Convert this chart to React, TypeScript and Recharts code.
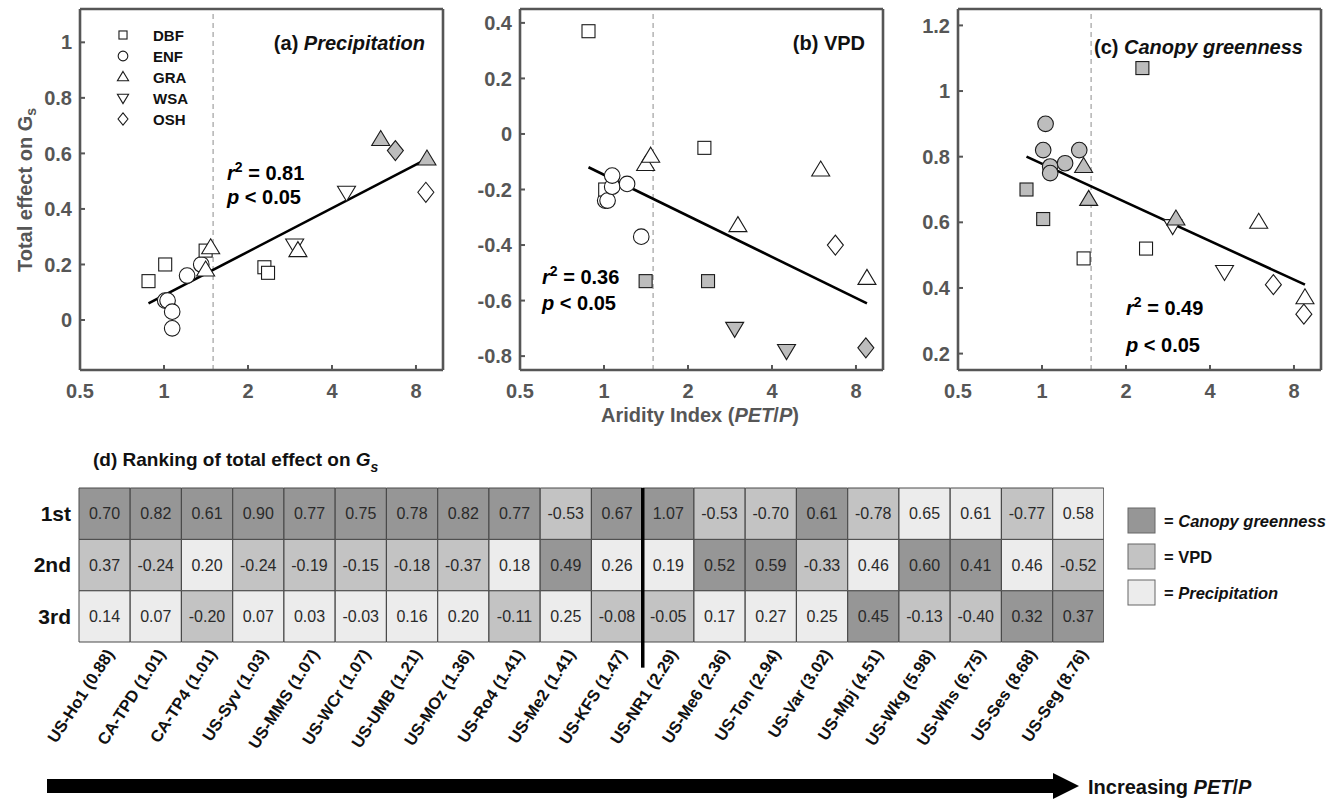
import React from 'react';
import {
  ScatterChart, Scatter, XAxis, YAxis, ReferenceLine,
  BarChart, Bar, Cell, LabelList,
} from 'recharts';

// ---------------- data ----------------
const sites = ['US-Ho1','CA-TPD','CA-TP4','US-Syv','US-MMS','US-WCr','US-UMB','US-MOz','US-Ro4','US-Me2','US-KFS','US-NR1','US-Me6','US-Ton','US-Var','US-Mpj','US-Wkg','US-Whs','US-Ses','US-Seg'];
const aridity = [0.88,1.01,1.01,1.03,1.07,1.07,1.21,1.36,1.41,1.41,1.47,2.29,2.36,2.94,3.02,4.51,5.98,6.75,8.68,8.76];
const pft = ['DBF','ENF','DBF','ENF','ENF','ENF','ENF','ENF','GRA','DBF','GRA','DBF','DBF','WSA','GRA','WSA','GRA','OSH','OSH','GRA'];
const precipEffect = [0.14,0.07,0.20,0.07,0.03,-0.03,0.16,0.20,0.18,0.25,0.26,0.19,0.17,0.27,0.25,0.46,0.65,0.61,0.46,0.58];
const vpdEffect = [0.37,-0.24,-0.20,-0.24,-0.19,-0.15,-0.18,-0.37,-0.11,-0.53,-0.08,-0.05,-0.53,-0.70,-0.33,-0.78,-0.13,-0.40,-0.77,-0.52];
const canopyEffect = [0.70,0.82,0.61,0.90,0.77,0.75,0.78,0.82,0.77,0.49,0.67,1.07,0.52,0.59,0.61,0.45,0.60,0.41,0.32,0.37];
// driver order per site, 1st..3rd (C = canopy greenness, V = VPD, P = precipitation)
const ranking = ['CVP','CVP','CPV','CVP','CVP','CVP','CVP','CVP','CPV','VCP','CPV','CPV','VCP','VCP','CVP','VPC','PCV','PCV','VPC','PVC'];

const fitX = [0.88, 8.76];
const fitPrecip = [0.06, 0.58];
const fitVpd = [-0.12, -0.61];
const fitCanopy = [0.80, 0.41];

const xDomain = [0.5, 10];
const xTicks = [0.5, 1, 2, 4, 8];
const aridThreshold = 1.5;
const legendTypes = ['DBF','ENF','GRA','WSA','OSH'];
const rowLabels = ['1st','2nd','3rd'];

// ---------------- styles ----------------
const FONT = '"Liberation Sans", Arial, Helvetica, sans-serif';
const AXIS = '#565656';
const GRAY = '#bdbdbd';
const DRIVER_COLOR: Record<string, string> = { C: '#969696', V: '#c3c3c3', P: '#ececec' };

function drawMarker(type: string, cx: number, cy: number, fill: string, s = 1, key?: any) {
  const st = { fill, stroke: '#1a1a1a', strokeWidth: 1.1 };
  switch (type) {
    case 'DBF':
      return <rect key={key} x={cx - 6.5 * s} y={cy - 6.5 * s} width={13 * s} height={13 * s} {...st} />;
    case 'ENF':
      return <circle key={key} cx={cx} cy={cy} r={7.8 * s} {...st} />;
    case 'GRA':
      return <polygon key={key} points={`${cx},${cy - 9 * s} ${cx + 9 * s},${cy + 6 * s} ${cx - 9 * s},${cy + 6 * s}`} {...st} />;
    case 'WSA':
      return <polygon key={key} points={`${cx - 9 * s},${cy - 6 * s} ${cx + 9 * s},${cy - 6 * s} ${cx},${cy + 9 * s}`} {...st} />;
    default:
      return <polygon key={key} points={`${cx},${cy - 10 * s} ${cx + 8 * s},${cy} ${cx},${cy + 10 * s} ${cx - 8 * s},${cy}`} {...st} />;
  }
}

const MarkerShape = (props: any) => {
  const { cx, cy, payload } = props;
  return drawMarker(payload.pft, cx, cy, payload.first ? GRAY : '#ffffff');
};

function buildPoints(values: number[], driver: string) {
  return sites.map((_, i) => ({ x: aridity[i], y: values[i], pft: pft[i], first: ranking[i][0] === driver }));
}

const axisLineStyle = { stroke: AXIS, strokeWidth: 2.6 };
const tickLineStyle = { stroke: AXIS, strokeWidth: 2 };
const tickText = { fill: AXIS, fontSize: 20, fontWeight: 'bold', fontFamily: FONT };

function Panel({ left, values, driver, yDomain, yTicks, fitY }: any) {
  const data = buildPoints(values, driver);
  const seg = [{ x: fitX[0], y: fitY[0] }, { x: fitX[1], y: fitY[1] }];
  return (
    <div style={{ position: 'absolute', left, top: 0 }}>
      <ScatterChart width={433} height={410} margin={{ top: 8, right: 9, bottom: 0, left: 0 }}>
        <XAxis type="number" dataKey="x" scale="log" domain={xDomain} ticks={xTicks} allowDataOverflow
          height={40} tickSize={-5} tickMargin={19} interval={0}
          axisLine={axisLineStyle} tickLine={tickLineStyle} tick={tickText} />
        <XAxis xAxisId="t" orientation="top" type="number" scale="log" domain={xDomain} ticks={xTicks} allowDataOverflow
          height={1} tickSize={-5} interval={0} tick={false}
          axisLine={axisLineStyle} tickLine={tickLineStyle} />
        <YAxis type="number" dataKey="y" domain={yDomain} ticks={yTicks} allowDataOverflow
          width={60} tickSize={-5} tickMargin={13} interval={0}
          axisLine={axisLineStyle} tickLine={tickLineStyle} tick={tickText} />
        <YAxis yAxisId="r" orientation="right" type="number" domain={yDomain} ticks={yTicks} allowDataOverflow
          width={1} tickSize={-5} interval={0} tick={false}
          axisLine={axisLineStyle} tickLine={tickLineStyle} />
        <ReferenceLine x={aridThreshold} stroke="#b3b3b3" strokeDasharray="5 4" strokeWidth={1.5} />
        <ReferenceLine segment={seg} stroke="#000" strokeWidth={2.6} ifOverflow="visible" />
        <Scatter data={data} shape={MarkerShape} isAnimationActive={false} />
      </ScatterChart>
    </div>
  );
}

const valueOf = (i: number, d: string) => (d === 'C' ? canopyEffect[i] : d === 'V' ? vpdEffect[i] : precipEffect[i]);

const heatData = sites.map((s, i) => ({
  label: `${s} (${aridity[i].toFixed(2)})`,
  r1: 1, r2: 1, r3: 1,
  v1: valueOf(i, ranking[i][0]),
  v2: valueOf(i, ranking[i][1]),
  v3: valueOf(i, ranking[i][2]),
}));

const CellLabel = (props: any) => {
  const { x, y, width, height, value } = props;
  return (
    <text x={x + width / 2} y={y + height / 2} textAnchor="middle" dominantBaseline="central"
      fontSize={16} fill="#2a2a2a" fontFamily={FONT}>{Number(value).toFixed(2)}</text>
  );
};

const SiteTick = (props: any) => {
  const { x, y, payload } = props;
  const ax = x + 10;
  const ay = y + 4;
  return (
    <text x={ax} y={ay} textAnchor="end" transform={`rotate(-57, ${ax}, ${ay})`}
      fontSize={16.5} fontWeight="bold" fill="#111" fontFamily={FONT}>{payload.value}</text>
  );
};

function Heatmap() {
  const divider = heatData[11].label;
  return (
    <div style={{ position: 'absolute', left: 9, top: 486 }}>
      <BarChart width={1095} height={286} data={heatData} margin={{ top: 2, right: 0, bottom: 0, left: 0 }}
        barCategoryGap={0} barGap={0}>
        <XAxis dataKey="label" type="category" interval={0} height={130} axisLine={false} tickLine={false} tick={<SiteTick />} />
        <YAxis type="number" domain={[0, 3]} ticks={[0.5, 1.5, 2.5]} width={70} axisLine={false} tickLine={false}
          tickFormatter={(v: number) => rowLabels[2 - Math.floor(v)]}
          tick={{ fill: '#111', fontSize: 21, fontWeight: 'bold', fontFamily: FONT }} />
        {[3, 2, 1].map((k) => (
          <Bar key={k} dataKey={`r${k}`} stackId="rank" isAnimationActive={false} stroke="#4a4a4a" strokeWidth={1}>
            {heatData.map((_, i) => <Cell key={i} fill={DRIVER_COLOR[ranking[i][k - 1]]} />)}
            <LabelList dataKey={`v${k}`} content={CellLabel} />
          </Bar>
        ))}
        <ReferenceLine segment={[{ x: divider, y: 3 }, { x: divider, y: -0.5 }]} position="start"
          ifOverflow="visible" stroke="#000" strokeWidth={3.5} />
      </BarChart>
    </div>
  );
}

function Overlay() {
  const bold = { fontFamily: FONT, fontWeight: 'bold' as const };
  const stat = (x: number, y: number, r2: string) => (
    <text x={x} y={y} fontSize={20} fill="#000" {...bold}>
      <tspan fontStyle="italic">r</tspan>
      <tspan dy={-8} fontSize={14}>2</tspan>
      <tspan dy={8}>{` = ${r2}`}</tspan>
    </text>
  );
  const pText = (x: number, y: number) => (
    <text x={x} y={y} fontSize={20} fill="#000" {...bold}>
      <tspan fontStyle="italic">p</tspan>
      <tspan>{' < 0.05'}</tspan>
    </text>
  );
  return (
    <svg width={1340} height={799} style={{ position: 'absolute', left: 0, top: 0, pointerEvents: 'none' }}>
      {/* y-axis label */}
      <text transform="rotate(-90, 25, 190)" x={25} y={190} textAnchor="middle" dominantBaseline="central"
        fontSize={20} fill={AXIS} {...bold}>
        <tspan>Total effect on G</tspan><tspan dy={6} fontSize={14}>s</tspan>
      </text>
      {/* x-axis label */}
      <text x={700} y={422} textAnchor="middle" fontSize={20} fill={AXIS} {...bold}>
        <tspan>Aridity Index (</tspan><tspan fontStyle="italic">PET</tspan><tspan>/</tspan>
        <tspan fontStyle="italic">P</tspan><tspan>)</tspan>
      </text>

      {/* panel a */}
      <text x={425} y={50} textAnchor="end" fontSize={20} fill="#111" {...bold}>
        <tspan>(a) </tspan><tspan fontStyle="italic">Precipitation</tspan>
      </text>
      {legendTypes.map((t, i) => (
        <g key={t}>
          {drawMarker(t, 123, 35 + i * 21, '#fff', 0.62)}
          <text x={153} y={35 + i * 21} dominantBaseline="central" fontSize={15} fill="#111" {...bold}>{t}</text>
        </g>
      ))}
      {stat(227, 180, '0.81')}
      {pText(227, 204)}

      {/* panel b */}
      <text x={865} y={50} textAnchor="end" fontSize={20} fill="#111" {...bold}>(b) VPD</text>
      {stat(542, 284, '0.36')}
      {pText(542, 310)}

      {/* panel c */}
      <text x={1303} y={54} textAnchor="end" fontSize={20} fill="#111" {...bold}>
        <tspan>(c) </tspan><tspan fontStyle="italic">Canopy greenness</tspan>
      </text>
      {stat(1126, 315, '0.49')}
      {pText(1126, 352)}

      {/* heatmap title */}
      <text x={93} y={466} fontSize={19} fill="#111" {...bold}>
        <tspan>(d) Ranking of total effect on </tspan><tspan fontStyle="italic">G</tspan>
        <tspan dy={6} fontSize={14} fontStyle="italic">s</tspan>
      </text>

      {/* heatmap legend */}
      {[['C', 'Canopy greenness', true], ['V', 'VPD', false], ['P', 'Precipitation', true]].map(([d, name, it]: any, i) => (
        <g key={d}>
          <rect x={1128} y={508 + i * 36} width={27} height={25} fill={DRIVER_COLOR[d]} stroke="#666" strokeWidth={1} />
          <text x={1164} y={521 + i * 36} dominantBaseline="central" fontSize={16.5} fill="#111" {...bold}>
            <tspan>= </tspan><tspan fontStyle={it ? 'italic' : 'normal'}>{name}</tspan>
          </text>
        </g>
      ))}

      {/* arrow */}
      <rect x={47} y={779} width={1007} height={14} fill="#000" />
      <polygon points="1053,773 1079,786 1053,799" fill="#000" />
      <text x={1088} y={787} dominantBaseline="central" fontSize={20} fill="#111" {...bold}>
        <tspan>Increasing </tspan><tspan fontStyle="italic">PET</tspan><tspan>/</tspan><tspan fontStyle="italic">P</tspan>
      </text>
    </svg>
  );
}

export default function App() {
  return (
    <div style={{ position: 'absolute', left: 0, top: 0, width: 1340, height: 799, background: '#fff', fontFamily: FONT, overflow: 'hidden' }}>
      <Panel left={20} values={precipEffect} driver="P" yDomain={[-0.18, 1.12]} yTicks={[0, 0.2, 0.4, 0.6, 0.8, 1]} fitY={fitPrecip} />
      <Panel left={460} values={vpdEffect} driver="V" yDomain={[-0.85, 0.45]} yTicks={[-0.8, -0.6, -0.4, -0.2, 0, 0.2, 0.4]} fitY={fitVpd} />
      <Panel left={898} values={canopyEffect} driver="C" yDomain={[0.15, 1.25]} yTicks={[0.2, 0.4, 0.6, 0.8, 1, 1.2]} fitY={fitCanopy} />
      <Heatmap />
      <Overlay />
    </div>
  );
}
